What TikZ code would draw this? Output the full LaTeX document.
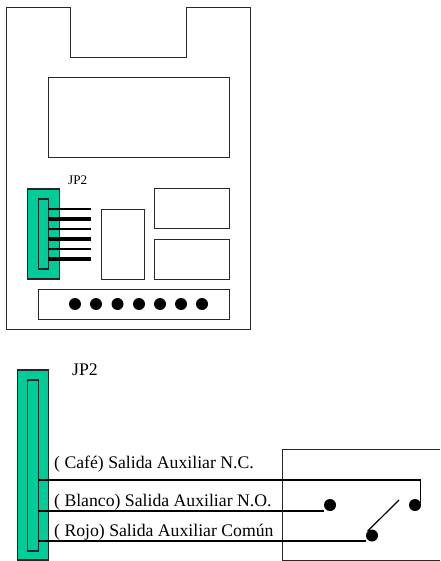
\documentclass[tikz,border=0pt]{standalone}
\usepackage{fontspec}
\setmainfont{Liberation Serif}
\definecolor{jpgreen}{RGB}{0,204,153}
\definecolor{linegray}{RGB}{40,40,40}
\tikzset{
  outline/.style={draw=linegray,line width=1pt,fill=white},
  connector/.style={draw=black!85,fill=jpgreen,line width=1.1pt},
  thinpin/.style={draw=black,line width=1.3pt},
  thickpin/.style={draw=black,line width=3.6pt},
  wire/.style={draw=black,line width=2.1pt},
  dotmark/.style={circle,fill=black,draw=none,minimum size=12pt,inner sep=0pt},
  lbl/.style={inner sep=0pt,anchor=base west,font=\fontsize{17.7}{18}\selectfont},
  smalllbl/.style={inner sep=0pt,anchor=base west,font=\fontsize{13.2}{14}\selectfont}
}
\begin{document}
\begin{tikzpicture}[x=1pt,y=-1pt]
\useasboundingbox (0,0) rectangle (440,561);
% board
\draw[outline] (6.3,8) -- (70.3,8) -- (70.3,58) -- (186.3,58) -- (186.3,8) -- (250.3,8) -- (250.3,329) -- (6.3,329) -- cycle;
\draw[outline] (48.3,78) rectangle (229.3,158);
\draw[connector] (27.3,189) rectangle (59.3,279);
\draw[connector] (38.3,199) rectangle (48.3,269);
\coordinate (pe1) at (91,209);
\coordinate (pe2) at (91,219);
\coordinate (pe3) at (91,229);
\coordinate (pe4) at (91,239);
\coordinate (pe5) at (91,249);
\coordinate (pe6) at (91,259);
\coordinate (ps1) at (48,209);
\coordinate (ps2) at (48,219);
\coordinate (ps3) at (48,229);
\coordinate (ps4) at (48,239);
\coordinate (ps5) at (48,249);
\coordinate (ps6) at (48,259);
\draw[thinpin] (ps1) -- (pe1);
\draw[thickpin] (ps2) -- (pe2);
\draw[thinpin] (ps3) -- (pe3);
\draw[thickpin] (ps4) -- (pe4);
\draw[thinpin] (ps5) -- (pe5);
\draw[thickpin] (ps6) -- (pe6);
\draw[outline] (101.3,209) rectangle (144.3,279);
\draw[outline] (154.3,189) rectangle (229.3,228);
\draw[outline] (154.3,239) rectangle (229.3,279);
\draw[outline] (38.3,289) rectangle (229.3,319);
\foreach \i/\x in {1/75,2/96,3/117.5,4/139,5/160,6/181,7/202}
  \node[dotmark] (d\i) at (\x,304) {};
\node[smalllbl] (jpa) at (68,185) {JP2};
% lower
\draw[outline] (440,449.5) -- (282,449.5) -- (282,560) -- (440,560);
\draw[connector] (17.3,370) rectangle (48.3,560);
\draw[connector] (27.3,380) rectangle (38.3,551);
\node[lbl] (jpb) at (72,375) {JP2};
\node[lbl] (t1) at (54,468) {( Café) Salida Auxiliar N.C.};
\node[lbl] (t2) at (54,506.5) {( Blanco) Salida Auxiliar N.O.};
\node[lbl] (t3) at (54,536.5) {( Rojo) Salida Auxiliar Común};
\node[dotmark] (no) at (330,505) {};
\node[dotmark] (nc) at (415,505) {};
\node[dotmark] (com) at (372,535.5) {};
\coordinate (w1) at (38,480);
\coordinate (w2) at (38,511);
\coordinate (w3) at (38,541);
\coordinate (arm) at (399,500);
\draw[wire] (w1) -- (420.5,480);
\draw[line width=1.2pt] (420.5,480) -- (420.5,503);
\draw[wire] (w2) -- (no.west |- w2);
\draw[wire] (w3) -- (com.west |- w3);
\draw[line width=1.2pt] (com.north west) -- (arm);
\end{tikzpicture}
\end{document}
